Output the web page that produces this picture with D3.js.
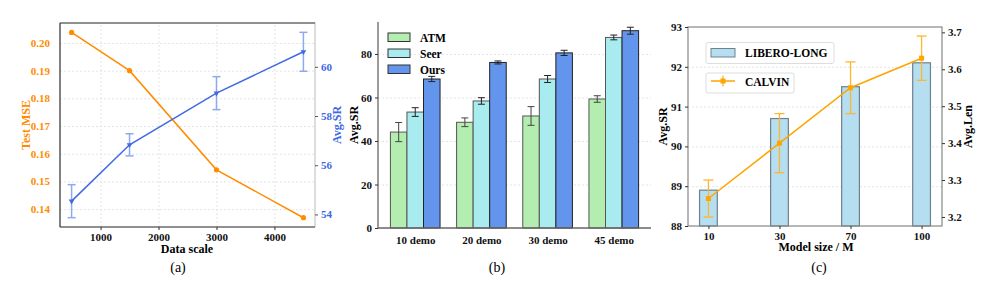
<!DOCTYPE html>
<html>
<head>
<meta charset="utf-8">
<script src="https://cdn.jsdelivr.net/npm/d3@7"></script>
<style>
body { margin: 0; background: #fff; }
svg text { font-family: "Times New Roman", "Liberation Serif", "DejaVu Serif", serif; }
.tick text { font-weight: bold; font-size: 11px; }
.grid line { stroke: #ddd; stroke-dasharray: 2,2; stroke-width: 0.8px; }
.grid path { display: none; }
</style>
</head>
<body>
<script>
// panel (a)
var scaleX = [500, 1500, 3000, 4500];
var mseVals = [0.2038, 0.1900, 0.1542, 0.1369];
var srVals = [54.54, 56.83, 58.93, 60.61];
var srErr = [0.67, 0.45, 0.67, 0.79];

// panel (b)
var demos = ["10 demo", "20 demo", "30 demo", "45 demo"];
var methods = ["ATM", "Seer", "Ours"];
var atmVals = [44.1, 48.6, 51.5, 59.3];
var atmErr = [4.4, 2.0, 4.3, 1.5];
var seerVals = [53.3, 58.4, 68.5, 87.6];
var seerErr = [2.0, 1.5, 1.6, 1.1];
var oursVals = [68.5, 76.1, 80.5, 90.7];
var oursErr = [1.2, 0.7, 1.2, 1.6];

// panel (c)
var modelSizes = ["10", "30", "70", "100"];
var liberoVals = [88.9, 90.7, 91.5, 92.1];
var calvinVals = [3.25, 3.40, 3.55, 3.63];
var calvinErr = [0.05, 0.08, 0.07, 0.06];

var FONT = "'Times New Roman', 'Liberation Serif', 'DejaVu Serif', serif";
var width = 996, height = 300;
var svg = d3.select("body").append("svg").attr("width", width).attr("height", height)
  .attr("font-family", FONT);

function style(g, col) {
  g.attr("font-family", FONT);
  g.selectAll(".domain").remove();
  g.selectAll(".tick line").attr("stroke", col || "#333");
  g.selectAll(".tick text").attr("fill", col || "#111").attr("font-family", FONT);
}

// ---------- (a) ----------
(function() {
  var L = 60, R = 315, T = 23, B = 227;
  var g = svg.append("g");
  var x = d3.scaleLinear().domain([300, 4700]).range([L, R]);
  var yl = d3.scaleLinear().domain([0.13355, 0.2072]).range([B, T]);
  var yr = d3.scaleLinear().domain([53.49, 61.78]).range([B, T]);
  var orange = "#ff8c00", blue = "#4169e1";

  g.append("g").attr("class", "grid").attr("transform", "translate(0," + B + ")")
    .call(d3.axisBottom(x).tickValues([1000, 2000, 3000, 4000]).tickSize(-(B - T)).tickFormat(""));
  g.append("g").attr("class", "grid").attr("transform", "translate(" + L + ",0)")
    .call(d3.axisLeft(yl).tickValues([0.14, 0.15, 0.16, 0.17, 0.18, 0.19, 0.20]).tickSize(-(R - L)).tickFormat(""));

  g.append("rect").attr("x", L).attr("y", T).attr("width", R - L).attr("height", B - T)
    .attr("fill", "none").attr("stroke", "#bbb");
  g.append("line").attr("x1", L).attr("x2", L).attr("y1", T).attr("y2", B).attr("stroke", "#444").attr("stroke-width", 1.2);
  g.append("line").attr("x1", L).attr("x2", R).attr("y1", B).attr("y2", B).attr("stroke", "#444").attr("stroke-width", 1.2);
  g.append("line").attr("x1", L).attr("x2", R).attr("y1", T).attr("y2", T).attr("stroke", "#444").attr("stroke-width", 1.2);

  var ax = g.append("g").attr("transform", "translate(0," + B + ")")
    .call(d3.axisBottom(x).tickValues([1000, 2000, 3000, 4000]).tickSize(3).tickFormat(d3.format("d")));
  style(ax);
  var al = g.append("g").attr("transform", "translate(" + L + ",0)")
    .call(d3.axisLeft(yl).tickValues([0.14, 0.15, 0.16, 0.17, 0.18, 0.19, 0.20]).tickSize(0).tickPadding(10).tickFormat(d3.format(".2f")));
  style(al, orange);
  var ar = g.append("g").attr("transform", "translate(" + R + ",0)")
    .call(d3.axisRight(yr).tickValues([54, 56, 58, 60]).tickSize(3).tickPadding(3));
  style(ar, blue);
  ar.selectAll(".tick line").attr("stroke", "#555");

  var pts = scaleX.map(function(d, i) { return {x: d, m: mseVals[i], s: srVals[i], e: srErr[i]}; });

  g.append("path").datum(pts).attr("fill", "none").attr("stroke", orange).attr("stroke-width", 1.5)
    .attr("d", d3.line().x(function(d) { return x(d.x); }).y(function(d) { return yl(d.m); }));
  g.selectAll(".om").data(pts).enter().append("circle")
    .attr("cx", function(d) { return x(d.x); }).attr("cy", function(d) { return yl(d.m); })
    .attr("r", 2.6).attr("fill", orange);

  var eb = g.selectAll(".eb").data(pts).enter().append("g").attr("stroke", "#8fa9f0").attr("stroke-width", 1.5);
  eb.append("line").attr("x1", function(d) { return x(d.x); }).attr("x2", function(d) { return x(d.x); })
    .attr("y1", function(d) { return yr(d.s - d.e); }).attr("y2", function(d) { return yr(d.s + d.e); });
  eb.append("line").attr("x1", function(d) { return x(d.x) - 4; }).attr("x2", function(d) { return x(d.x) + 4; })
    .attr("y1", function(d) { return yr(d.s - d.e); }).attr("y2", function(d) { return yr(d.s - d.e); });
  eb.append("line").attr("x1", function(d) { return x(d.x) - 4; }).attr("x2", function(d) { return x(d.x) + 4; })
    .attr("y1", function(d) { return yr(d.s + d.e); }).attr("y2", function(d) { return yr(d.s + d.e); });
  g.append("path").datum(pts).attr("fill", "none").attr("stroke", blue).attr("stroke-width", 1.5)
    .attr("d", d3.line().x(function(d) { return x(d.x); }).y(function(d) { return yr(d.s); }));
  g.selectAll(".bm").data(pts).enter().append("path")
    .attr("d", d3.symbol().type(d3.symbolTriangle).size(14)).attr("fill", blue)
    .attr("transform", function(d) { return "translate(" + x(d.x) + "," + yr(d.s) + ") rotate(180)"; });

  g.append("text").attr("transform", "translate(30," + ((T + B) / 2) + ") rotate(-90)")
    .attr("text-anchor", "middle").attr("font-size", 12).attr("font-weight", "bold").attr("fill", orange).text("Test MSE");
  g.append("text").attr("transform", "translate(341," + ((T + B) / 2) + ") rotate(-90)")
    .attr("text-anchor", "middle").attr("font-size", 12).attr("font-weight", "bold").attr("fill", blue).text("Avg.SR");
  g.append("text").attr("x", 187).attr("y", 253).attr("text-anchor", "middle").attr("font-size", 12)
    .attr("font-weight", "bold").text("Data scale");
  g.append("text").attr("x", 178).attr("y", 272).attr("text-anchor", "middle").attr("font-size", 14).text("(a)");
})();

// ---------- (b) ----------
(function() {
  var L = 378, R = 651, T = 22, B = 228;
  var g = svg.append("g");
  var x = d3.scaleLinear().domain([-0.5625, 3.5625]).range([L, R]);
  var y = d3.scaleLinear().domain([0, 94.7]).range([B, T]);
  var cols = ["#b3edb0", "#a9ecf0", "#6495ed"];
  var vals = [atmVals, seerVals, oursVals];
  var errs = [atmErr, seerErr, oursErr];
  var bw = 0.25;

  g.append("g").attr("class", "grid").attr("transform", "translate(" + L + ",0)")
    .call(d3.axisLeft(y).tickValues([20, 40, 60, 80]).tickSize(-(R - L)).tickFormat(""));

  methods.forEach(function(m, k) {
    var data = demos.map(function(d, i) { return {i: i, v: vals[k][i], e: errs[k][i]}; });
    var off = (k - 1) * bw;
    g.selectAll(".bar" + k).data(data).enter().append("rect")
      .attr("x", function(d) { return x(d.i + off - bw / 2); })
      .attr("width", function(d) { return x(bw) - x(0); })
      .attr("y", function(d) { return y(d.v); })
      .attr("height", function(d) { return B - y(d.v); })
      .attr("fill", cols[k]).attr("stroke", k === 2 ? "#222" : "#555").attr("stroke-width", 1);
    var eb = g.selectAll(".eb" + k).data(data).enter().append("g")
      .attr("stroke", k === 0 ? "#444" : "#222").attr("stroke-width", 1);
    eb.append("line").attr("x1", function(d) { return x(d.i + off); }).attr("x2", function(d) { return x(d.i + off); })
      .attr("y1", function(d) { return y(d.v - d.e); }).attr("y2", function(d) { return y(d.v + d.e); });
    [-1, 1].forEach(function(s) {
      eb.append("line").attr("x1", function(d) { return x(d.i + off) - 3.5; }).attr("x2", function(d) { return x(d.i + off) + 3.5; })
        .attr("y1", function(d) { return y(d.v + s * d.e); }).attr("y2", function(d) { return y(d.v + s * d.e); });
    });
  });

  g.append("line").attr("x1", L).attr("x2", L).attr("y1", T).attr("y2", B).attr("stroke", "#666").attr("stroke-width", 1.3);
  g.append("line").attr("x1", L).attr("x2", R).attr("y1", B).attr("y2", B).attr("stroke", "#666").attr("stroke-width", 1.3);

  var ax = g.append("g").attr("transform", "translate(0," + B + ")")
    .call(d3.axisBottom(x).tickValues([0, 1, 2, 3]).tickSize(0).tickPadding(8).tickFormat(function(d) { return demos[d]; }));
  style(ax);
  var ay = g.append("g").attr("transform", "translate(" + L + ",0)")
    .call(d3.axisLeft(y).tickValues([0, 20, 40, 60, 80]).tickSize(3).tickPadding(3));
  style(ay);

  g.append("text").attr("transform", "translate(358," + ((T + B) / 2) + ") rotate(-90)")
    .attr("text-anchor", "middle").attr("font-size", 12).attr("font-weight", "bold").text("Avg.SR");
  g.append("text").attr("x", 497).attr("y", 272).attr("text-anchor", "middle").attr("font-size", 14).text("(b)");

  var lg = g.selectAll(".lg").data(methods).enter().append("g")
    .attr("transform", function(d, i) { return "translate(388," + (33 + i * 16) + ")"; });
  lg.append("rect").attr("width", 22).attr("height", 8.5).attr("fill", function(d, i) { return cols[i]; })
    .attr("stroke", "#333");
  lg.append("text").attr("x", 32).attr("y", 8.5).attr("font-size", 11.5).attr("font-weight", "bold").text(function(d) { return d; });
})();

// ---------- (c) ----------
(function() {
  var L = 688, R = 942, T = 27, B = 226;
  var g = svg.append("g");
  var x = d3.scaleLinear().domain([-0.2875, 3.2875]).range([L, R]);
  var yl = d3.scaleLinear().domain([88, 93]).range([B, T]);
  var yr = d3.scaleLinear().domain([3.1755, 3.7145]).range([B, T]);
  var orange = "#ffa500";

  g.append("g").attr("class", "grid").attr("transform", "translate(" + L + ",0)")
    .call(d3.axisLeft(yl).tickValues([89, 90, 91, 92]).tickSize(-(R - L)).tickFormat(""));

  var data = modelSizes.map(function(d, i) { return {i: i, b: liberoVals[i], c: calvinVals[i], e: calvinErr[i]}; });
  var bw = 0.25;
  g.selectAll(".bar").data(data).enter().append("rect")
    .attr("x", function(d) { return x(d.i - bw / 2); })
    .attr("width", x(bw) - x(0))
    .attr("y", function(d) { return yl(d.b); })
    .attr("height", function(d) { return B - yl(d.b); })
    .attr("fill", "#b5dff0").attr("stroke", "#70818c").attr("stroke-width", 1.2);

  var eb = g.selectAll(".eb").data(data).enter().append("g").attr("stroke", "#ffb52e").attr("stroke-width", 1.3);
  eb.append("line").attr("x1", function(d) { return x(d.i); }).attr("x2", function(d) { return x(d.i); })
    .attr("y1", function(d) { return yr(d.c - d.e); }).attr("y2", function(d) { return yr(d.c + d.e); });
  [-1, 1].forEach(function(s) {
    eb.append("line").attr("x1", function(d) { return x(d.i) - 5; }).attr("x2", function(d) { return x(d.i) + 5; })
      .attr("y1", function(d) { return yr(d.c + s * d.e); }).attr("y2", function(d) { return yr(d.c + s * d.e); });
  });
  g.append("path").datum(data).attr("fill", "none").attr("stroke", orange).attr("stroke-width", 1.5)
    .attr("d", d3.line().x(function(d) { return x(d.i); }).y(function(d) { return yr(d.c); }));
  g.selectAll(".cm").data(data).enter().append("rect")
    .attr("x", function(d) { return x(d.i) - 2.5; }).attr("y", function(d) { return yr(d.c) - 2.5; })
    .attr("width", 5).attr("height", 5).attr("fill", orange);

  g.append("rect").attr("x", L).attr("y", T).attr("width", R - L).attr("height", B - T)
    .attr("fill", "none").attr("stroke", "#888").attr("stroke-width", 1.2);

  var ax = g.append("g").attr("transform", "translate(0," + B + ")")
    .call(d3.axisBottom(x).tickValues([0, 1, 2, 3]).tickSize(3).tickPadding(3).tickFormat(function(d) { return modelSizes[d]; }));
  style(ax);
  var al = g.append("g").attr("transform", "translate(" + L + ",0)")
    .call(d3.axisLeft(yl).tickValues([88, 89, 90, 91, 92, 93]).tickSize(3).tickPadding(3).tickFormat(d3.format("d")));
  style(al);
  var ar = g.append("g").attr("transform", "translate(" + R + ",0)")
    .call(d3.axisRight(yr).tickValues([3.2, 3.3, 3.4, 3.5, 3.6, 3.7]).tickSize(3).tickPadding(3).tickFormat(d3.format(".1f")));
  style(ar);

  g.append("text").attr("transform", "translate(667," + ((T + B) / 2) + ") rotate(-90)")
    .attr("text-anchor", "middle").attr("font-size", 12).attr("font-weight", "bold").text("Avg.SR");
  g.append("text").attr("transform", "translate(972," + ((T + B) / 2) + ") rotate(-90)")
    .attr("text-anchor", "middle").attr("font-size", 12).attr("font-weight", "bold").text("Avg.Len");
  g.append("text").attr("x", 816).attr("y", 251).attr("text-anchor", "middle").attr("font-size", 12)
    .attr("font-weight", "bold").text("Model size / M");
  g.append("text").attr("x", 819).attr("y", 272).attr("text-anchor", "middle").attr("font-size", 14).text("(c)");

  // legends
  var l1 = g.append("g").attr("transform", "translate(706,42.5)");
  l1.append("rect").attr("width", 128).attr("height", 21).attr("rx", 2).attr("fill", "#fff").attr("stroke", "#ddd");
  l1.append("rect").attr("x", 5).attr("y", 6).attr("width", 24).attr("height", 8.5).attr("fill", "#b5dff0").attr("stroke", "#70818c");
  l1.append("text").attr("x", 39).attr("y", 14.5).attr("font-size", 11.5).attr("font-weight", "bold").text("LIBERO-LONG");
  var l2 = g.append("g").attr("transform", "translate(706,73)");
  l2.append("rect").attr("width", 88).attr("height", 20).attr("rx", 2).attr("fill", "#fff").attr("stroke", "#ddd");
  l2.append("line").attr("x1", 5).attr("x2", 29).attr("y1", 8).attr("y2", 8).attr("stroke", orange).attr("stroke-width", 1.5);
  l2.append("line").attr("x1", 17).attr("x2", 17).attr("y1", 2.5).attr("y2", 13.5).attr("stroke", "#ffb52e").attr("stroke-width", 1.3);
  l2.append("rect").attr("x", 14.5).attr("y", 5.5).attr("width", 5).attr("height", 5).attr("fill", orange);
  l2.append("text").attr("x", 39).attr("y", 12.5).attr("font-size", 11.5).attr("font-weight", "bold").text("CALVIN");
})();
</script>
</body>
</html>
